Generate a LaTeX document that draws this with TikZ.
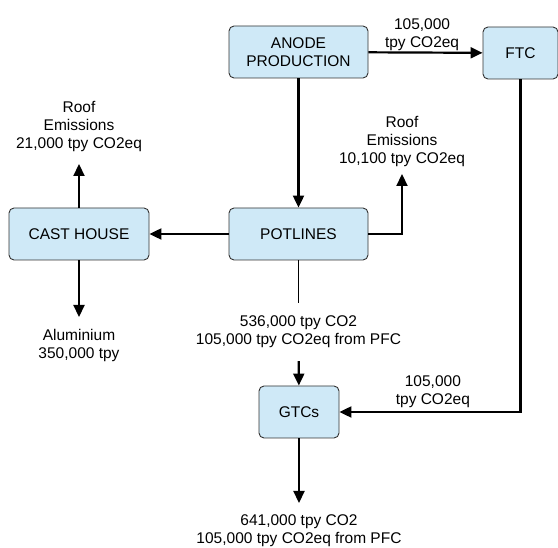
\documentclass[tikz,border=0pt]{standalone}
\usepackage{fontspec}
\setmainfont{Liberation Sans}
\usepackage{xcolor}
\usepackage{tikz}
\usetikzlibrary{arrows.meta, positioning, calc}
\definecolor{smeltblue}{RGB}{207,233,247}
\definecolor{smeltedge}{RGB}{50,50,50}

\begin{document}
\begin{tikzpicture}[
    x=1pt, y=-1pt,
    font=\fontsize{15.5}{18}\selectfont,
    box/.style   = {draw=smeltedge, line width=0.9pt, fill=smeltblue,
                    rounded corners=5pt, minimum height=52pt,
                    align=center, inner sep=2pt},
    note/.style  = {align=center, inner sep=1pt, outer ysep=11pt},
    flow/.style  = {align=center, inner sep=1pt},
    arr/.style   = {-{Triangle[length=12pt,width=11pt]}, line width=2.2pt},
    pipe/.style  = {line width=0.8pt},
  ]
  \useasboundingbox (0,0) rectangle (558,548);

  %% Process units
  \node[box, minimum width=139pt] (anode)    at (298.5,52)  {ANODE\\PRODUCTION};
  \node[box, minimum width=75pt]  (ftc)      at (520.5,53)  {FTC};
  \node[box, minimum width=139pt] (potlines) at (298.5,234) {POTLINES};
  \node[box, minimum width=140pt] (cast)     at (79,234)    {CAST HOUSE};
  \node[box, minimum width=80pt]  (gtcs)     at (299,412)   {GTCs};

  %% Emission and product labels
  \node[note, anchor=south] (roofcast) at (79,164)   {Roof\\Emissions\\21,000 tpy CO2eq};
  \node[note, anchor=north] (alu)      at (79,317)   {Aluminium\\350,000 tpy};
  \node[note, anchor=south, outer ysep=6pt] (roofpot) at (402,174) {Roof\\Emissions\\10,100 tpy CO2eq};
  \node[note, anchor=north, outer ysep=12pt] (potgas) at (298.5,303) {536,000 tpy CO2\\105,000 tpy CO2eq from PFC};
  \node[note, anchor=north] (stack)    at (299,503)  {641,000 tpy CO2\\105,000 tpy CO2eq from PFC};

  %% Anode plant
  \draw[arr] (anode) -- node[flow, above=0pt, pos=0.47] {105,000\\tpy CO2eq} (ftc);
  \draw[arr] (anode) -- (potlines);

  %% Potlines
  \draw[arr] (potlines) -- (cast);
  \draw[arr] (potlines.east) -| (roofpot.south);
  \draw[pipe] (potlines) -- (potgas);
  \draw[arr] (potgas) -- (gtcs);

  %% Cast house
  \draw[arr] (cast) -- (roofcast);
  \draw[arr] (cast) -- (alu);

  %% FTC to gas treatment
  \draw[arr] (ftc.south) |- node[flow, above=2pt, pos=0.742] {105,000\\tpy CO2eq} (gtcs.east);
  \draw[arr] (gtcs) -- (stack);

\end{tikzpicture}
\end{document}
